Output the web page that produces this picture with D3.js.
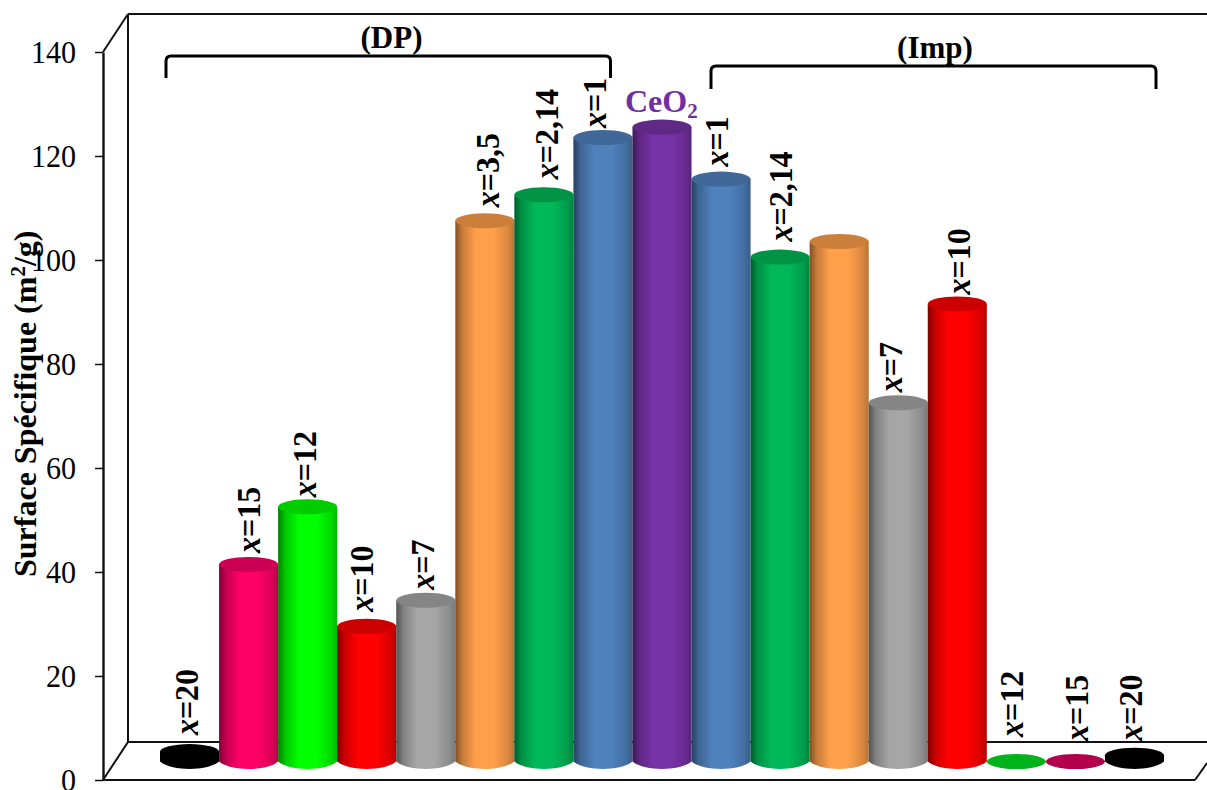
<!DOCTYPE html>
<html><head><meta charset="utf-8">
<script src="https://cdn.jsdelivr.net/npm/d3@7"></script>
<style>html,body{margin:0;padding:0;background:#fff;overflow:hidden}text{font-family:"Liberation Serif",serif}</style>
</head><body><svg id="c" width="1207" height="790"></svg>
<script>
const categories = ["DP20","DP15","DP12","DP10","DP7","DP3.5","DP2.14","DP1","CeO2","Imp1","Imp2.14","Imp3.5","Imp7","Imp10","Imp12","Imp15","Imp20"];
const values = [1.9,37.9,49,26,31,104,109,120,122,112,97,100,69,88,0,0,1.2];
const labels = ["20","15","12","10","7","3,5","2,14","1","","1","2,14","","7","10","12","15","20"];
const colors = ["#000000","#FF0066","#00FF00","#FF0000","#A6A6A6","#FF9F4A","#00B858","#4F81BD","#7833A8","#4F81BD","#00B858","#FF9F4A","#A6A6A6","#FF0000","#00E020","#E00060","#000000"];
const yTicks = [0,20,40,60,80,100,120,140];
// label placement nudges (dx from bar centre, gap above the cap)
const labelDx = [8,11,8,6,8,14,14,3,0,7,12,0,4,13,7,13,8];
const labelGap = [9,4,2,7,3,6,8,2,0,5,8,0,3,2,17,13,7];

const svg = d3.select("#c");
const x = d3.scaleBand().domain(categories).range([160,1164]);
const y = d3.scaleLinear().domain([0,140]).range([780,52]);
const depthY = 18.5, ry = 7.5, wallDx = 25, wallDy = 38;
const front = 103, back = front + wallDx, rightFront = 1195, rightEdge = 1207;

const frame = svg.append("g").attr("fill","none").attr("stroke","#111").attr("stroke-width",2);
const seg = (a,b,c,d)=>frame.append("line").attr("x1",a).attr("y1",b).attr("x2",c).attr("y2",d);
seg(back,y(140)-wallDy,rightEdge,y(140)-wallDy);
seg(back,y(140)-wallDy,back,y(0)-wallDy);
seg(back,y(0)-wallDy,rightEdge,y(0)-wallDy);
seg(front,y(140),back,y(140)-wallDy);
seg(front,y(0),back,y(0)-wallDy);
seg(front,y(0),rightFront,y(0));
seg(rightFront,y(0),rightEdge,y(0)-17);

const axis = d3.axisLeft(y).tickValues(yTicks).tickSize(8).tickPadding(19).tickSizeOuter(0);
const ag = svg.append("g").attr("transform",`translate(${front},0)`).call(axis);
ag.select(".domain").attr("stroke","#111").attr("stroke-width",2.4);
ag.selectAll(".tick line").attr("stroke","#111").attr("stroke-width",1.5);
ag.selectAll("text").attr("font-size",32).attr("font-family","Liberation Serif").attr("fill","#000")
  .attr("x",-27/0.94).attr("transform","scale(0.94,1)");

const shade=(c,k)=>{const r=d3.rgb(c);return d3.rgb(r.r*k,r.g*k,r.b*k).formatHex();};
const defs = svg.append("defs");
categories.forEach((c,i)=>{
  const g = defs.append("linearGradient").attr("id","g"+i);
  [[0,.5],[.12,.78],[.35,1],[.65,1],[.9,.85],[1,.72]].forEach(s=>g.append("stop").attr("offset",s[0]).attr("stop-color",shade(colors[i],s[1])));
});

const bars = svg.append("g");
categories.forEach((c,i)=>{
  const x0 = x(c), w = x.bandwidth(), cx = x0+w/2, rx = w/2;
  const base = y(0)-depthY, top = y(values[i])-depthY;
  const p = d3.path();
  p.moveTo(x0,top);
  p.lineTo(x0,base);
  p.bezierCurveTo(x0+w*.2,base+ry*1.33,x0+w*.8,base+ry*1.33,x0+w,base);
  p.lineTo(x0+w,top);
  p.closePath();
  bars.append("path").attr("d",p.toString()).attr("fill",`url(#g${i})`);
  bars.append("ellipse").attr("cx",cx).attr("cy",top).attr("rx",rx).attr("ry",ry)
     .attr("fill",colors[i]==="#000000"?"#000":shade(colors[i],.8));
});

const lab = svg.append("g").attr("font-weight","bold").attr("font-size",32).attr("fill","#000");
labels.forEach((t,i)=>{
  if(!t) return;
  const cx = x(categories[i])+x.bandwidth()/2+labelDx[i];
  const yy = y(values[i])-depthY-ry-labelGap[i];
  const tx = lab.append("text").attr("transform",`translate(${cx},${yy}) rotate(-90) scale(1,1.06)`);
  tx.append("tspan").attr("font-style","italic").text("x");
  tx.append("tspan").text("="+t);
});

const ce = svg.append("text").attr("x",625).attr("y",112).attr("font-size",32).attr("font-weight","bold").attr("fill","#7030A0");
ce.append("tspan").text("CeO");
ce.append("tspan").attr("font-size",21).attr("dy",6).text("2");

const title = svg.append("text").attr("transform","translate(36,577) rotate(-90)").attr("font-size",32).attr("font-weight","bold");
title.append("tspan").text("Surface Spécifique (m");
title.append("tspan").attr("font-size",21).attr("dy",-11).text("2");
title.append("tspan").attr("dy",11).text("/g)");

const bracket=(a,b,t,bot)=>svg.append("path").attr("fill","none").attr("stroke","#000").attr("stroke-width",3)
  .attr("d",`M${a},${bot}V${t+5}Q${a},${t} ${a+5},${t}H${b-5}Q${b},${t} ${b},${t+5}V${bot}`);
bracket(166,610.5,56,78);
bracket(711,1156,66,89);
svg.append("text").attr("x",391.5).attr("y",48).attr("text-anchor","middle").attr("font-size",31).attr("font-weight","bold").text("(DP)");
svg.append("text").attr("x",935).attr("y",58).attr("text-anchor","middle").attr("font-size",31).attr("font-weight","bold").text("(Imp)");
</script></body></html>
